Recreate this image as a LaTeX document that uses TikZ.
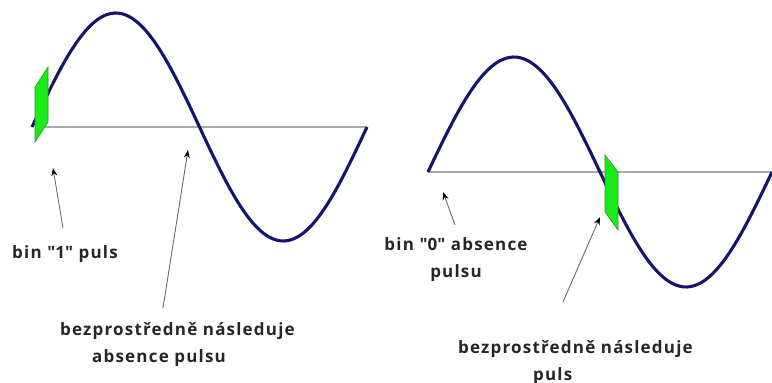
\documentclass[tikz,border=0pt]{standalone}
\usepackage{fontspec}
\setmainfont{Open Sans}
\newfontfamily\labelfont{Open Sans}[LetterSpace=7]
\usepackage{xcolor}
\usetikzlibrary{arrows.meta}
\definecolor{wavenavy}{RGB}{22,22,105}
\definecolor{axisgray}{RGB}{170,170,170}
\definecolor{pulsegreen}{RGB}{25,235,25}
\definecolor{pulseedge}{RGB}{40,150,40}
\definecolor{pointergray}{RGB}{105,105,105}
\tikzset{
  wave-line/.style={draw=wavenavy, line width=3.1pt, line join=round},
  axis-line/.style={draw=axisgray, line width=1.8pt},
  pulse-box/.style={fill=pulsegreen, draw=pulseedge, line width=0.6pt},
  pointer-arrow/.style={draw=pointergray, line width=0.9pt,
    -{Stealth[length=8pt, width=6pt, color=black]}},
  label-text/.style={font=\labelfont\fontsize{17}{27}\selectfont\bfseries, text=black!85,
    inner sep=0pt}
}

\begin{document}
\begin{tikzpicture}[x=1pt, y=-1pt]
\useasboundingbox (0,0) rectangle (772,383);

% Left wave: bin "1"
\draw[axis-line] (36,127) -- (367,127);
\draw[wave-line] plot[domain=0:360, samples=90, smooth] ({32+\x/360*335},{127-114*sin(\x)});
\path[pulse-box] (35,87) -- (48,67) -- (48,122) -- (35,142) -- cycle;

% Right wave: bin "0"
\draw[axis-line] (428,172) -- (772,172);
\draw[wave-line] plot[domain=0:360, samples=90, smooth] ({428+\x/360*344},{172-115*sin(\x)});
\path[pulse-box] (605,155) -- (618,172) -- (618,230) -- (605,212) -- cycle;

% Labels
\node[label-text, anchor=base west] (bin1) at (12,258) {bin \textquotedbl 1\textquotedbl\ puls};
\node[label-text, anchor=north west, align=left] (next1) at (60,322)
  {bezprostředně následuje\\\hspace*{32pt}absence pulsu};
\node[label-text, anchor=north, align=center] (bin0) at (456,237)
  {bin \textquotedbl 0\textquotedbl\ absence\\pulsu};
\node[label-text, anchor=north west, align=left] (next0) at (458,340)
  {bezprostředně následuje\\\hspace*{75pt}puls};

% Pointers
\coordinate (tailA) at (63,228);  \coordinate (tipA) at (53,168);
\coordinate (tailB) at (163,308); \coordinate (tipB) at (188,150);
\coordinate (tailC) at (455,225); \coordinate (tipC) at (443,192);
\coordinate (tailD) at (563,302); \coordinate (tipD) at (600,217);
\draw[pointer-arrow] (tailA) -- (tipA);
\draw[pointer-arrow] (tailB) -- (tipB);
\draw[pointer-arrow] (tailC) -- (tipC);
\draw[pointer-arrow] (tailD) -- (tipD);
\end{tikzpicture}
\end{document}
